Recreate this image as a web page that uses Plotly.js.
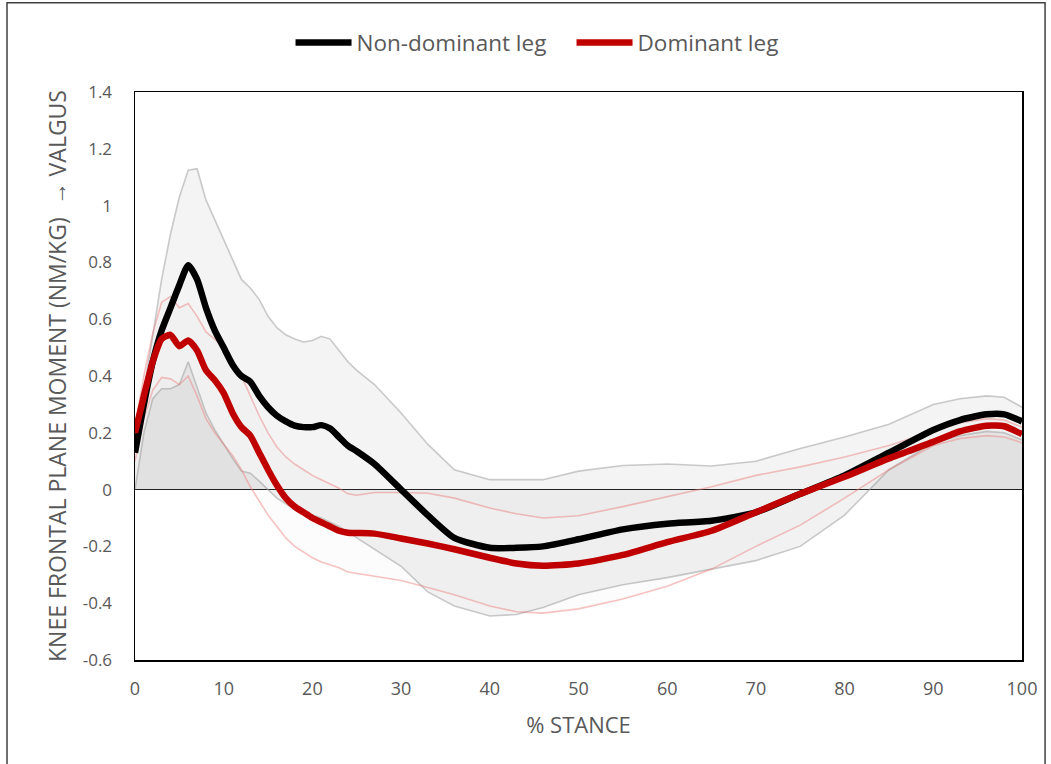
<!DOCTYPE html>
<html>
<head>
<meta charset="utf-8">
<script src="https://cdn.plot.ly/plotly-3.0.1.min.js"></script>
<style>html,body{margin:0;padding:0;background:#fff;}#chart{width:1051px;height:764px;}</style>
</head>
<body>
<div id="chart"></div>
<script>
// % stance sample points
const stance = [0,1,2,3,4,5,6,7,8,9,10,11,12,13,14,15,16,17,18,19,20,21,22,23,24,25,27,30,33,36,40,43,46,50,55,60,65,70,75,80,85,90,93,96,98,100];

// Non-dominant leg: mean, mean+SD, mean-SD
const nonDomMean = [0.13,0.30,0.45,0.56,0.64,0.72,0.79,0.74,0.64,0.56,0.50,0.44,0.40,0.38,0.33,0.29,0.26,0.24,0.225,0.22,0.22,0.227,0.215,0.185,0.155,0.135,0.09,0.0,-0.09,-0.17,-0.205,-0.205,-0.20,-0.175,-0.14,-0.12,-0.11,-0.08,-0.015,0.05,0.13,0.21,0.245,0.265,0.265,0.24];
const nonDomUpper = [0.15,0.35,0.55,0.74,0.90,1.03,1.125,1.13,1.02,0.95,0.88,0.81,0.74,0.71,0.67,0.61,0.57,0.545,0.53,0.52,0.525,0.54,0.53,0.49,0.45,0.42,0.37,0.27,0.16,0.07,0.035,0.035,0.035,0.065,0.085,0.09,0.083,0.10,0.145,0.185,0.23,0.30,0.32,0.33,0.325,0.29];
const nonDomLower = [0.0,0.20,0.32,0.355,0.355,0.37,0.45,0.36,0.27,0.21,0.16,0.11,0.065,0.058,0.03,0.0,-0.03,-0.05,-0.07,-0.08,-0.09,-0.10,-0.115,-0.13,-0.15,-0.17,-0.21,-0.27,-0.36,-0.41,-0.445,-0.44,-0.415,-0.37,-0.335,-0.31,-0.28,-0.25,-0.20,-0.09,0.07,0.165,0.19,0.205,0.20,0.175];

// Dominant leg: mean, mean+SD, mean-SD
const domMean = [0.20,0.33,0.45,0.53,0.545,0.505,0.525,0.49,0.42,0.385,0.34,0.27,0.22,0.19,0.13,0.07,0.015,-0.03,-0.06,-0.08,-0.10,-0.115,-0.13,-0.145,-0.152,-0.153,-0.155,-0.172,-0.19,-0.21,-0.24,-0.26,-0.268,-0.26,-0.23,-0.185,-0.145,-0.08,-0.015,0.045,0.11,0.168,0.205,0.225,0.223,0.195];
const domUpper = [0.22,0.40,0.55,0.66,0.68,0.64,0.655,0.61,0.555,0.53,0.50,0.45,0.40,0.33,0.26,0.20,0.15,0.115,0.09,0.07,0.05,0.035,0.02,0.005,-0.015,-0.02,-0.01,-0.01,-0.013,-0.03,-0.065,-0.085,-0.10,-0.092,-0.06,-0.025,0.01,0.05,0.08,0.115,0.155,0.205,0.235,0.25,0.245,0.22];
const domLower = [0.10,0.25,0.35,0.395,0.39,0.37,0.40,0.33,0.25,0.20,0.16,0.12,0.07,0.01,-0.04,-0.09,-0.13,-0.17,-0.20,-0.22,-0.24,-0.255,-0.265,-0.275,-0.29,-0.295,-0.305,-0.32,-0.345,-0.37,-0.41,-0.43,-0.435,-0.42,-0.385,-0.34,-0.28,-0.20,-0.125,-0.03,0.07,0.155,0.18,0.19,0.185,0.165];

const seriesNames = ["Non-dominant leg", "Dominant leg"];
const xTickVals = [0,10,20,30,40,50,60,70,80,90,100];
const yTickVals = [-0.6,-0.4,-0.2,0,0.2,0.4,0.6,0.8,1,1.2,1.4];
const yTickText = ["-0.6","-0.4","-0.2","0","0.2","0.4","0.6","0.8","1","1.2","1.4"];

function band(y, lineColor, fillColor) {
  return {x: stance, y: y, type: 'scatter', mode: 'lines', fill: 'tozeroy',
    fillcolor: fillColor, line: {color: lineColor, width: 1.6}, showlegend: false, hoverinfo: 'skip'};
}

const traces = [
  band(nonDomUpper, 'rgba(160,160,160,0.55)', 'rgba(0,0,0,0.045)'),
  band(nonDomLower, 'rgba(160,160,160,0.55)', 'rgba(0,0,0,0.05)'),
  band(domUpper, 'rgba(235,120,120,0.45)', 'rgba(0,0,0,0.012)'),
  band(domLower, 'rgba(235,120,120,0.45)', 'rgba(0,0,0,0.012)'),
  {x: stance, y: nonDomMean, type: 'scatter', mode: 'lines', name: seriesNames[0],
   line: {color: '#000000', width: 6.5, shape: 'spline', smoothing: 0.6}},
  {x: stance, y: domMean, type: 'scatter', mode: 'lines', name: seriesNames[1],
   line: {color: '#c00000', width: 6.5, shape: 'spline', smoothing: 0.6}}
];

const gray = '#595959';
const layout = {
  width: 1051, height: 764,
  margin: {l: 135, r: 29, t: 92, b: 104},
  paper_bgcolor: '#ffffff', plot_bgcolor: '#ffffff',
  font: {family: 'Open Sans, sans-serif', color: gray},
  showlegend: true,
  legend: {orientation: 'h', xref: 'container', yref: 'container', x: 0.5438, xanchor: 'center',
    y: 0.944, yanchor: 'middle', font: {size: 22.5, color: gray}, itemwidth: 56, traceorder: 'normal',
    entrywidth: 210, entrywidthmode: 'pixels'},
  xaxis: {range: [0, 100], tickvals: xTickVals, showgrid: false, zeroline: false,
    showline: true, linecolor: '#000', linewidth: 1.5, mirror: true, ticks: '',
    tickfont: {size: 18, color: gray}, ticklabelstandoff: 12,
    title: {text: '% STANCE', font: {size: 22, color: gray}, standoff: 18}},
  yaxis: {range: [-0.6, 1.4], tickvals: yTickVals, ticktext: yTickText, showgrid: false,
    zeroline: true, zerolinecolor: '#262626', zerolinewidth: 1.5,
    showline: true, linecolor: '#000', linewidth: 1.5, mirror: true, ticks: '',
    tickfont: {size: 17, color: gray}, ticklabelstandoff: 18,
    title: {text: 'KNEE FRONTAL PLANE MOMENT (NM/KG)  \u2192 VALGUS', font: {size: 23, color: gray}, standoff: 9}},
  shapes: [
    {type: 'rect', xref: 'paper', yref: 'paper', x0: -0.1443, x1: 1.026, y0: -0.3, y1: 1.157,
     line: {color: '#404040', width: 1.5}, fillcolor: 'rgba(0,0,0,0)', layer: 'below'}
  ]
};

Plotly.newPlot('chart', traces, layout, {displayModeBar: false, staticPlot: true});
</script>
</body>
</html>
